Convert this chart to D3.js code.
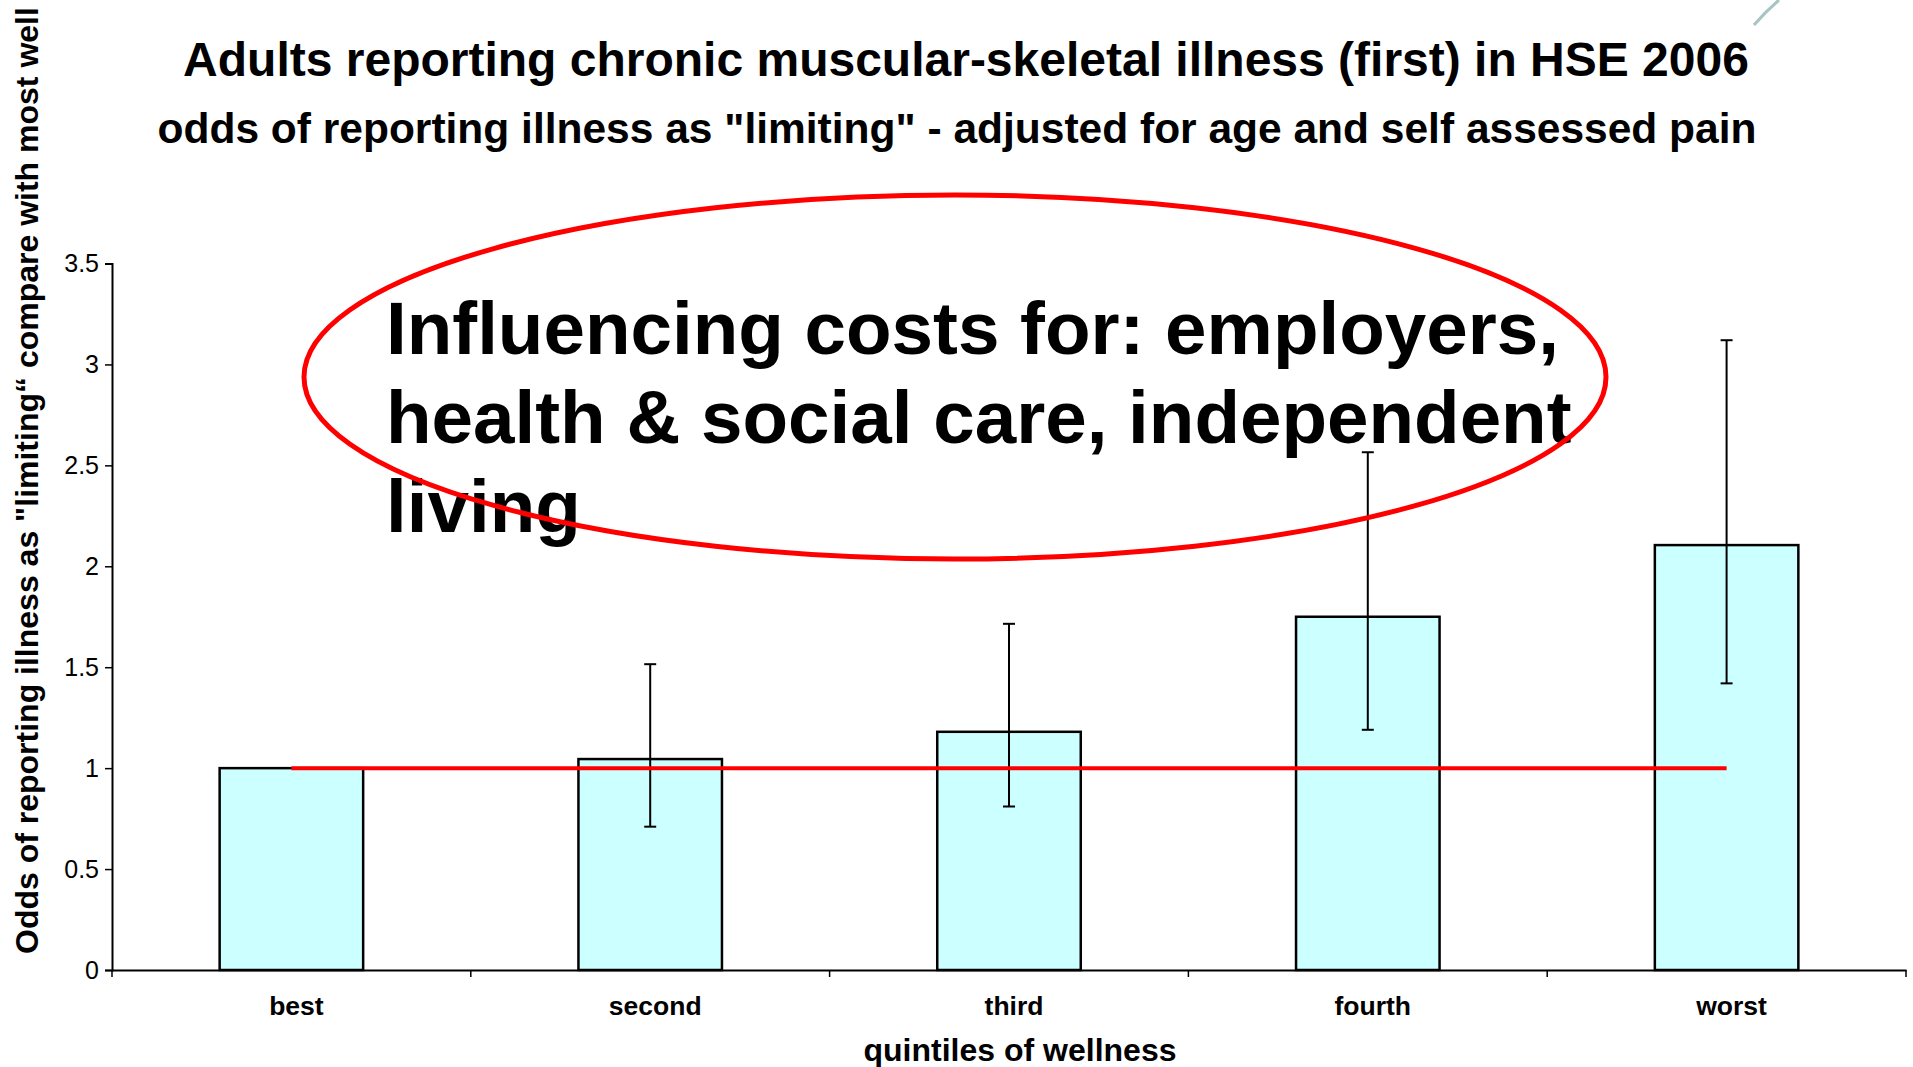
<!DOCTYPE html>
<html>
<head>
<meta charset="utf-8">
<script src="https://cdn.jsdelivr.net/npm/d3@7"></script>
<style>
  body { margin: 0; background: #fff; }
  svg { display: block; font-family: "Liberation Sans", Arial, sans-serif; }
</style>
</head>
<body>
<div id="chart"></div>
<script>
const categories = ["best", "second", "third", "fourth", "worst"];
const odds = [1.0, 1.045, 1.18, 1.75, 2.105];
const lower = [1.0, 0.71, 0.81, 1.19, 1.42];
const upper = [1.0, 1.515, 1.715, 2.565, 3.12];
const yTicks = [0, 0.5, 1, 1.5, 2, 2.5, 3, 3.5];
const refLevel = 1;
const annotationLines = ["Influencing costs for: employers,", "health & social care, independent", "living"];

const width = 1913, height = 1067;
const margin = { top: 263.5, right: 7, bottom: 97, left: 112 };

const svg = d3.select("#chart").append("svg")
  .attr("width", width)
  .attr("height", height);

const x = d3.scaleBand()
  .domain(categories)
  .range([margin.left, width - margin.right])
  .paddingInner(0.6)
  .paddingOuter(0.3);

const y = d3.scaleLinear()
  .domain([0, 3.5])
  .range([height - margin.bottom, margin.top]);

const step = x.step();
const mid = d => x(d) + x.bandwidth() / 2;

// bars
svg.selectAll(".bar")
  .data(categories)
  .join("rect")
  .attr("class", "bar")
  .attr("x", d => x(d))
  .attr("y", (d, i) => y(odds[i]))
  .attr("width", x.bandwidth())
  .attr("height", (d, i) => y(0) - y(odds[i]))
  .attr("fill", "#ccffff")
  .attr("stroke", "#000")
  .attr("stroke-width", 2.5);

// axes
const yAxis = svg.append("g")
  .attr("transform", `translate(${margin.left},0)`)
  .call(d3.axisLeft(y).tickValues(yTicks).tickFormat(d3.format("")).tickSize(7).tickPadding(6));
yAxis.select(".domain").attr("stroke-width", 2);
yAxis.selectAll(".tick line").attr("stroke-width", 1.5);
yAxis.selectAll("text").style("font-size", "25px").attr("fill", "#000").attr("font-family", null);

const xAxis = svg.append("g")
  .attr("transform", `translate(0,${y(0)})`)
  .call(d3.axisBottom(x).tickSize(0).tickFormat(""));
xAxis.select(".domain").attr("stroke-width", 2);
xAxis.selectAll(".tick").remove();

// category boundary ticks
const bounds = d3.range(categories.length + 1).map(i => margin.left + i * step);
svg.selectAll(".xtick")
  .data(bounds)
  .join("line")
  .attr("x1", d => d).attr("x2", d => d)
  .attr("y1", y(0)).attr("y2", y(0) + 7)
  .attr("stroke", "#000").attr("stroke-width", 1.5);

svg.selectAll(".xlabel")
  .data(categories)
  .join("text")
  .attr("x", d => mid(d) + 5)
  .attr("y", 1015)
  .attr("text-anchor", "middle")
  .style("font-size", "26.5px")
  .style("font-weight", "bold")
  .text(d => d);

// error bars
const eb = svg.selectAll(".err")
  .data(categories.filter((d, i) => upper[i] !== lower[i]))
  .join("g")
  .attr("class", "err");
eb.append("line")
  .attr("x1", mid).attr("x2", mid)
  .attr("y1", d => y(upper[categories.indexOf(d)]))
  .attr("y2", d => y(lower[categories.indexOf(d)]))
  .attr("stroke", "#000").attr("stroke-width", 2);
[upper, lower].forEach(arr => {
  eb.append("line")
    .attr("x1", d => mid(d) - 6).attr("x2", d => mid(d) + 6)
    .attr("y1", d => y(arr[categories.indexOf(d)]))
    .attr("y2", d => y(arr[categories.indexOf(d)]))
    .attr("stroke", "#000").attr("stroke-width", 2);
});

// reference line at odds = 1
svg.append("line")
  .attr("x1", mid(categories[0]))
  .attr("x2", mid(categories[categories.length - 1]))
  .attr("y1", y(refLevel)).attr("y2", y(refLevel))
  .attr("stroke", "#ff0000").attr("stroke-width", 4);

// titles
svg.append("text")
  .attr("x", 966).attr("y", 76)
  .attr("text-anchor", "middle")
  .style("font-size", "48px").style("font-weight", "bold")
  .text("Adults reporting chronic muscular-skeletal illness (first) in HSE 2006");

svg.append("text")
  .attr("x", 957).attr("y", 143)
  .attr("text-anchor", "middle")
  .style("font-size", "42.5px").style("font-weight", "bold")
  .text("odds of reporting illness as \"limiting\" - adjusted for age and self assessed pain");

svg.append("text")
  .attr("transform", "translate(38,954) rotate(-90)")
  .attr("text-anchor", "start")
  .style("font-size", "32px").style("font-weight", "bold")
  .text("Odds of reporting illness as \"limiting\u201C compare with most well");

svg.append("text")
  .attr("x", 1020).attr("y", 1061)
  .attr("text-anchor", "middle")
  .style("font-size", "32px").style("font-weight", "bold")
  .text("quintiles of wellness");

// annotation
svg.append("g").selectAll("text")
  .data(annotationLines)
  .join("text")
  .attr("x", 386)
  .attr("y", (d, i) => 354 + i * 89)
  .style("font-size", "74.6px").style("font-weight", "bold")
  .text(d => d);

svg.append("ellipse")
  .attr("cx", 955).attr("cy", 377)
  .attr("rx", 651).attr("ry", 182)
  .attr("fill", "none")
  .attr("stroke", "#ff0000").attr("stroke-width", 5);

// small decorative stroke at top right
svg.append("path")
  .attr("d", "M1754,25 Q1765,12 1779,0")
  .attr("fill", "none")
  .attr("stroke", "#a9c4c4").attr("stroke-width", 3);
</script>
</body>
</html>
